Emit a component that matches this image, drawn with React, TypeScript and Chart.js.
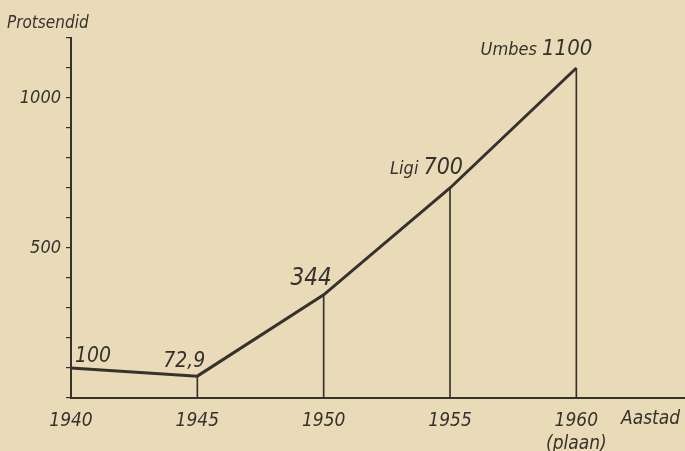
import React, { useEffect, useRef } from "react";
import { Chart, registerables } from "chart.js";

Chart.register(...registerables);

const years = [1940, 1945, 1950, 1955, 1960];
const percents = [100, 72.9, 344, 700, 1100];
const valueLabels = ["100", "72,9", "344", "700", "1100"];
const notePrefixes = ["", "", "", "Ligi", "Umbes"];
const dropYears = [1945, 1950, 1955, 1960];
const yTickLabels = [500, 1000];
const xTickLabels = ["1940", "1945", "1950", "1955", "1960"];
const planNote = "(plaan)";
const yTitle = "Protsendid";
const xTitle = "Aastad";

const FONT = "'DejaVu Sans Condensed', 'DejaVu Sans', sans-serif";
const INK = "#35322d";
const PAPER = "#eadbb8";

// styling: label offsets from the point (dx to anchor, dy to baseline), number font size, alignment
const labelStyle = [
  { dx: 4, dy: -6, size: 21, align: "left" },
  { dx: 8, dy: -9, size: 21, align: "right" },
  { dx: 8, dy: -10, size: 24, align: "right" },
  { dx: 13, dy: -14, size: 23, align: "right" },
  { dx: 16, dy: -13, size: 22, align: "right" },
];

const textPlugin = {
  id: "textPlugin",
  beforeDraw(chart: any) {
    const ctx = chart.ctx;
    ctx.save();
    ctx.fillStyle = PAPER;
    ctx.fillRect(0, 0, chart.width, chart.height);
    ctx.restore();
  },
  afterDatasetsDraw(chart: any) {
    const ctx = chart.ctx;
    const xs = chart.scales.x;
    const ys = chart.scales.y;
    ctx.save();
    ctx.fillStyle = INK;
    ctx.textBaseline = "alphabetic";
    years.forEach((yr, i) => {
      const px = xs.getPixelForValue(yr);
      const py = ys.getPixelForValue(percents[i]);
      const st = labelStyle[i];
      const numFont = `italic ${st.size}px ${FONT}`;
      const preFont = `italic 18px ${FONT}`;
      ctx.font = numFont;
      const numW = ctx.measureText(valueLabels[i]).width;
      const pre = notePrefixes[i] ? notePrefixes[i] + " " : "";
      ctx.font = preFont;
      const preW = pre ? ctx.measureText(pre).width : 0;
      const total = numW + preW;
      let left = st.align === "left" ? px + st.dx : px + st.dx - total;
      const base = py + st.dy;
      if (pre) {
        ctx.font = preFont;
        ctx.textAlign = "left";
        ctx.fillText(pre, left, base);
        left += preW;
      }
      ctx.font = numFont;
      ctx.textAlign = "left";
      ctx.fillText(valueLabels[i], left, base);
    });
    // axis titles
    ctx.font = `italic 17px ${FONT}`;
    ctx.textAlign = "left";
    ctx.fillText(yTitle, 7, 28);
    ctx.font = `italic 19px ${FONT}`;
    ctx.fillText(xTitle, 621, 424);
    ctx.restore();
  },
};

export default function App() {
  const ref = useRef<HTMLCanvasElement>(null);
  useEffect(() => {
    if (!ref.current) return;
    const chart = new Chart(ref.current, {
      type: "line",
      data: {
        datasets: [
          {
            type: "line",
            data: years.map((x, i) => ({ x, y: percents[i] })),
            borderColor: INK,
            borderWidth: 3,
            pointRadius: 0,
            tension: 0,
            fill: false,
            order: 0,
          },
          {
            type: "bar",
            data: dropYears.map((x) => ({ x, y: percents[years.indexOf(x)] })),
            backgroundColor: INK,
            barThickness: 1,
            order: 1,
          } as any,
        ],
      },
      options: {
        responsive: false,
        animation: false,
        layout: { padding: { top: 38, right: 0, left: 0, bottom: 0 } },
        plugins: {
          legend: { display: false },
          tooltip: { enabled: false },
        },
        scales: {
          x: {
            type: "linear",
            min: 1940,
            max: 1964.3,
            offset: false,
            grid: { display: false },
            border: { display: true, color: INK, width: 2 },
            ticks: {
              stepSize: 5,
              includeBounds: false,
              autoSkip: false,
              maxRotation: 0,
              padding: 4,
              color: INK,
              font: { family: FONT, size: 19, style: "italic" },
              callback: (v: any) => {
                const idx = years.indexOf(Number(v));
                if (idx < 0) return "";
                return idx === years.length - 1
                  ? [xTickLabels[idx], planNote]
                  : xTickLabels[idx];
              },
            },
            afterFit: (s: any) => {
              s.height = 53;
            },
          },
          y: {
            type: "linear",
            min: 0,
            max: 1200,
            grid: {
              display: true,
              drawOnChartArea: false,
              drawTicks: true,
              tickLength: 5,
              color: INK,
              lineWidth: 1.2,
            },
            border: { display: true, color: INK, width: 2 },
            ticks: {
              stepSize: 100,
              autoSkip: false,
              padding: 5,
              color: INK,
              font: { family: FONT, size: 18, style: "italic" },
              callback: (v: any) =>
                yTickLabels.includes(Number(v)) ? String(v) : "",
            },
            afterFit: (s: any) => {
              s.width = 71;
            },
          },
        },
      },
      plugins: [textPlugin],
    });
    return () => chart.destroy();
  }, []);
  return (
    <div style={{ position: "absolute", left: 0, top: 0, width: 685, height: 451 }}>
      <canvas ref={ref} width={685} height={451} />
    </div>
  );
}
